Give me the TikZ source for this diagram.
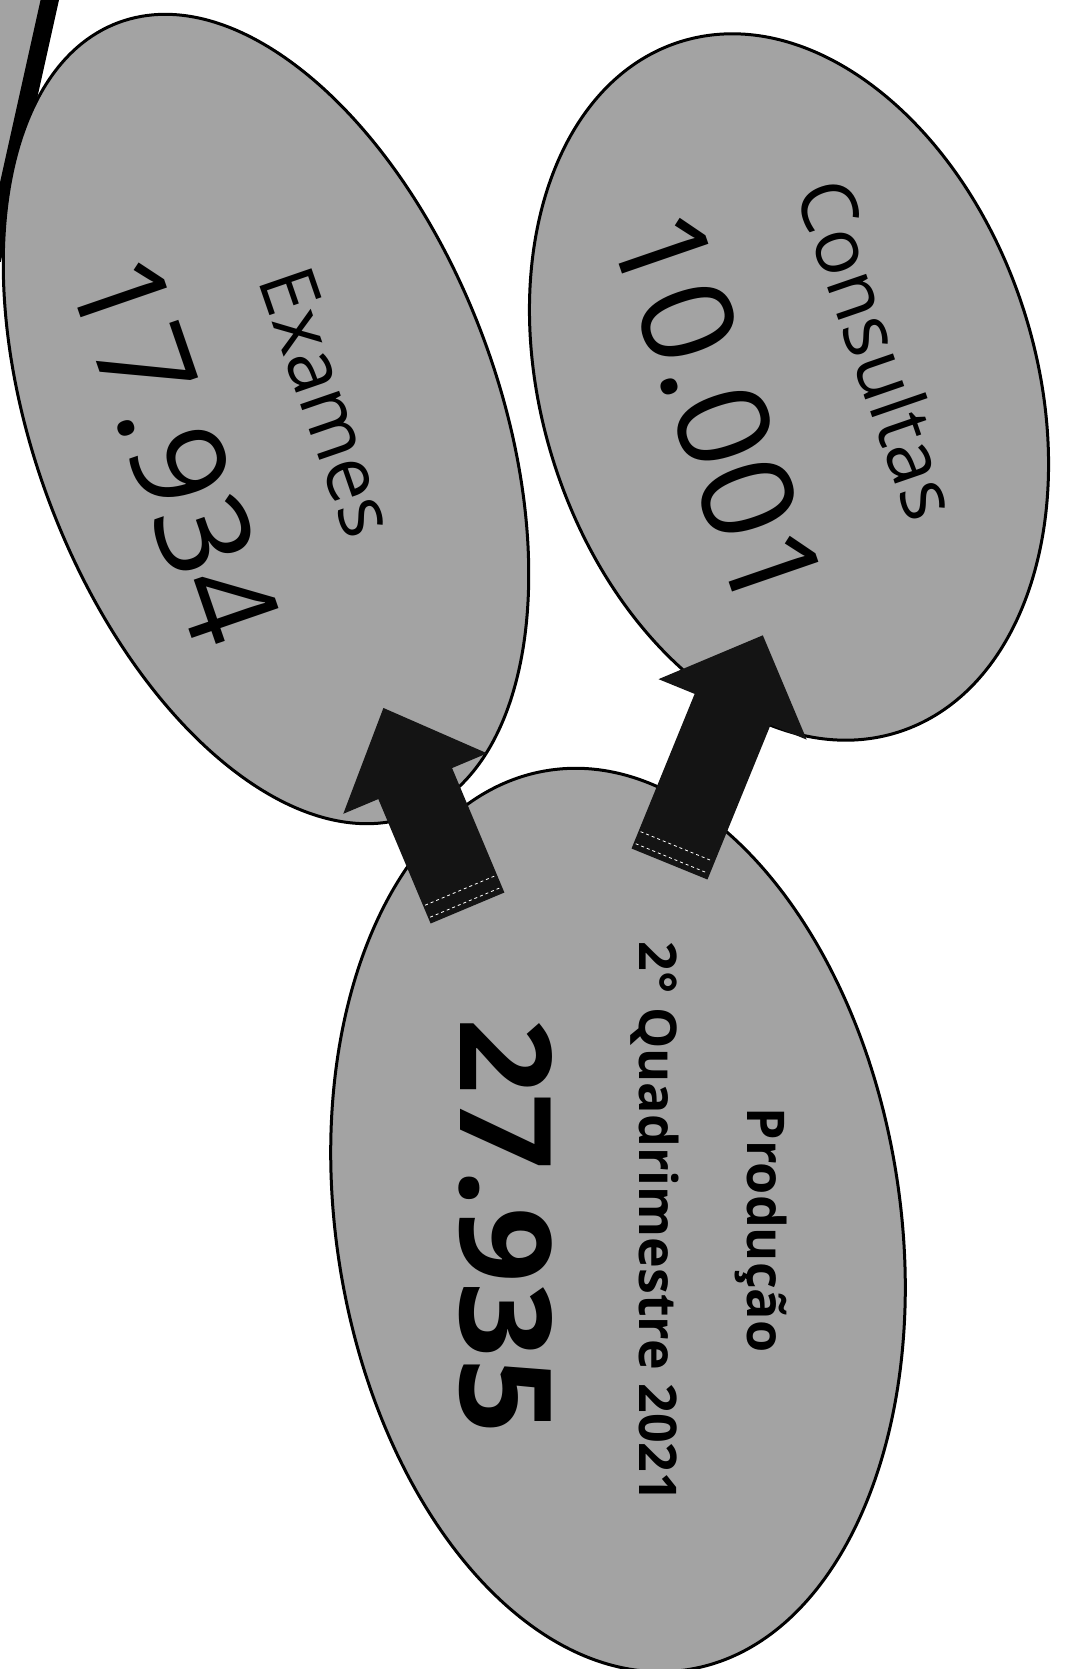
\documentclass[tikz,border=0pt]{standalone}
\usepackage{fontspec}
\setmainfont{Open Sans}
\usetikzlibrary{shapes.geometric}
\definecolor{blobgray}{gray}{0.64}
\definecolor{arrowfill}{gray}{0.08}
\begin{document}
\begin{tikzpicture}[x=1pt,y=-1pt,
  blob/.style={ellipse, draw=black, line width=3pt, fill=blobgray, inner sep=0pt},
  blockarrow/.style={fill=arrowfill, draw=none},
  taildash/.style={white, line width=0.8pt, dash pattern=on 3pt off 3pt},
  lbl/.style={font=\fontsize{77}{90}\selectfont, inner sep=0pt},
  num/.style={font=\fontsize{128}{140}\selectfont, inner sep=0pt},
  sublbl/.style={font=\fontsize{52}{60}\selectfont\bfseries, inner sep=0pt},
  bignum/.style={font=\fontsize{127}{140}\selectfont\bfseries, inner sep=0pt}]
\useasboundingbox (0,0) rectangle (1066,1669);
\clip (0,0) rectangle (1066,1669);

% fragment of a shape at the top-left corner
\fill[blobgray] (-10,-10) -- (52,-10) -- (-10,260) -- cycle;
\draw[line width=18pt] (52,-10) -- (-8,260);

% ellipses
\node[blob, minimum width=846pt, minimum height=464pt, rotate=-69.6] (exames) at (266,419) {};
\node[blob, minimum width=724pt, minimum height=494pt, rotate=-72.5] (consultas) at (789,387) {};
\node[blob, minimum width=910pt, minimum height=564pt, rotate=-81.2] (producao) at (618,1220) {};

% texts
\node[lbl, rotate=-71] (texames) at (328,402) {Exames};
\node[num, rotate=-71] (nexames) at (175,450) {17.934};
\node[lbl, rotate=-71] (tconsultas) at (879,349) {Consultas};
\node[num, rotate=-71, xscale=1.03] (nconsultas) at (718,410) {10.001};
\node[sublbl, rotate=-90] (tprod) at (761,1230) {Produção};
\node[sublbl, rotate=-90] (tquad) at (655,1222) {2° Quadrimestre 2021};
\node[bignum, rotate=-90, xscale=1.04] (nprod) at (506,1226) {27.935};

% block arrows
\begin{scope}[shift={(467.5,908)}, rotate=22.8]
  \fill[blockarrow] (-40,0) -- (40,0) -- (40,-135) -- (78,-135) -- (0,-217) -- (-78,-135) -- (-40,-135) -- cycle;
  \draw[taildash] (-38,-6) -- (38,-6);
  \draw[taildash] (-38,-19) -- (38,-19);
\end{scope}
\begin{scope}[shift={(669.5,864)}, rotate=-22.2]
  \fill[blockarrow] (-41,0) -- (41,0) -- (41,-167) -- (80,-167) -- (0,-247) -- (-80,-167) -- (-41,-167) -- cycle;
  \draw[taildash] (-39,-6) -- (39,-6);
  \draw[taildash] (-39,-19) -- (39,-19);
\end{scope}
\end{tikzpicture}
\end{document}
